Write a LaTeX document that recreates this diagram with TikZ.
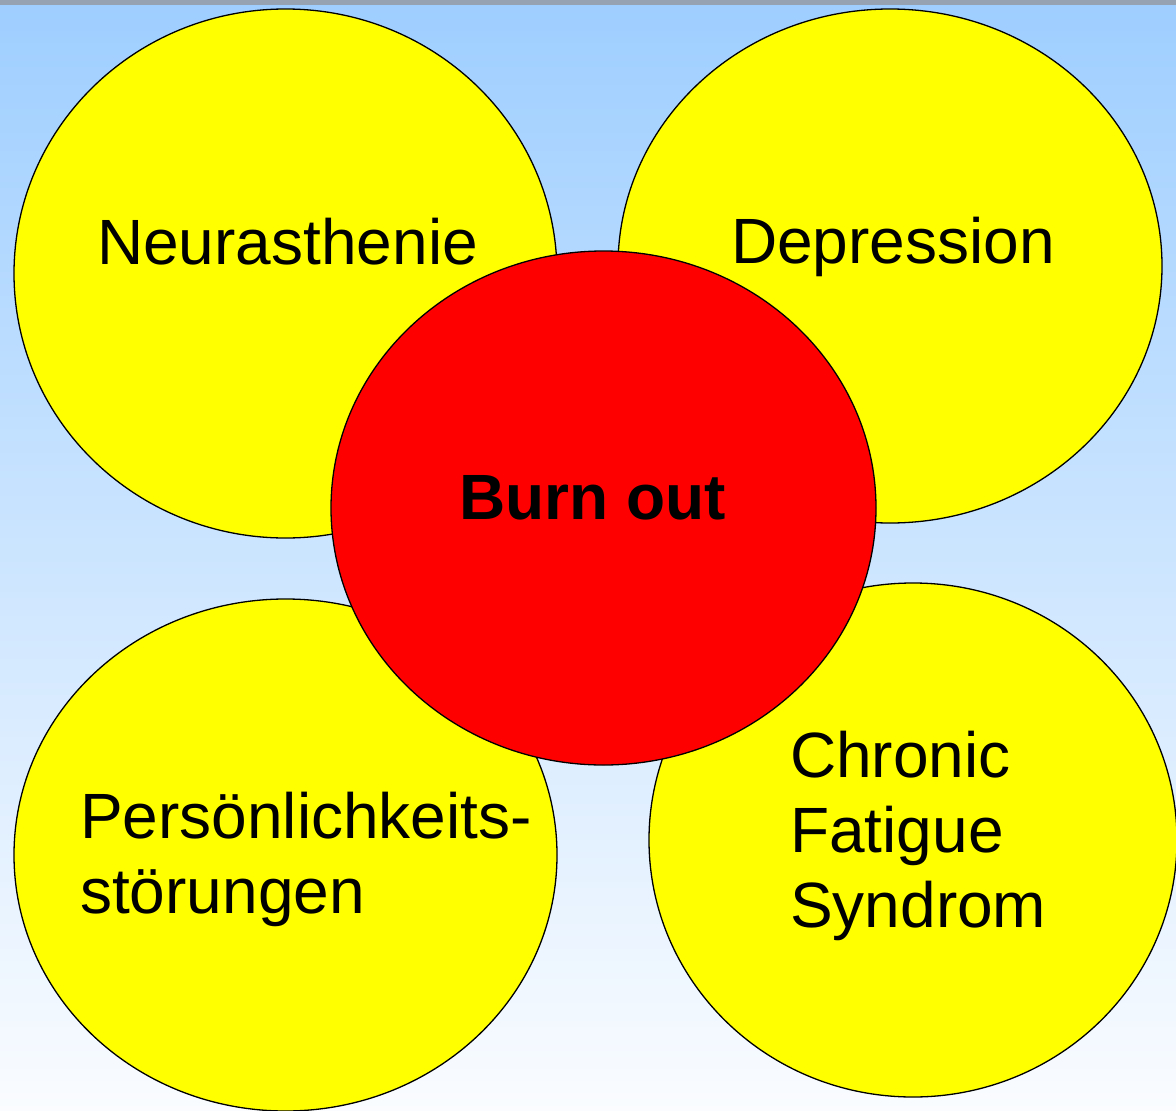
\documentclass[tikz,border=0pt]{standalone}
\usepackage{fontspec}
\setmainfont{Liberation Sans}
\usetikzlibrary{shapes.geometric}
\definecolor{bgtop}{RGB}{158,206,255}
\definecolor{bgbot}{RGB}{250,252,255}
\definecolor{ylw}{RGB}{255,255,0}
\definecolor{rd}{RGB}{255,0,0}
\definecolor{strip}{RGB}{150,162,178}
\tikzset{
  bubble/.style={ellipse, draw=black, line width=1.3pt, fill=ylw, inner sep=0pt},
  core/.style={bubble, fill=rd},
  lbl/.style={anchor=base west, inner sep=0pt, font=\fontsize{64}{75}\selectfont},
}
\begin{document}
\begin{tikzpicture}[x=1pt,y=-1pt]
\useasboundingbox (0,0) rectangle (1176,1111);
\clip (0,0) rectangle (1176,1111);
\shade[top color=bgtop, bottom color=bgbot] (0,0) rectangle (1176,1111);
\fill[strip] (0,0) rectangle (1176,5);
\node[bubble, minimum width=543pt, minimum height=529pt] (neu) at (285.5,273.5) {};
\node[bubble, minimum width=544pt, minimum height=514pt] (dep) at (890,266) {};
\node[bubble, minimum width=543pt, minimum height=512pt] (per) at (285.5,855) {};
\node[bubble, minimum width=528pt, minimum height=514pt] (cfs) at (913,840) {};
\node[core, minimum width=545pt, minimum height=514pt] (bo) at (603.5,508) {};
\node[lbl] (tneu) at (97,264) {Neurasthenie};
\node[lbl] (tdep) at (731,263) {Depression};
\node[lbl, font=\fontsize{64}{75}\selectfont\bfseries] (tbo) at (459,519) {Burn out};
\node[lbl] (tper1) at (80,838) {Persönlichkeits-};
\node[lbl] (tper2) at (80,913) {störungen};
\node[lbl] (tcfs1) at (790,777) {Chronic};
\node[lbl] (tcfs2) at (790,852) {Fatigue};
\node[lbl] (tcfs3) at (790,927) {Syndrom};
\end{tikzpicture}
\end{document}
